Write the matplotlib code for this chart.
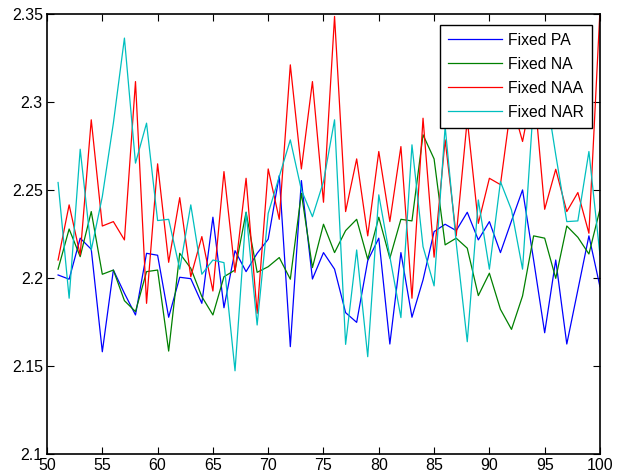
import numpy as np
import matplotlib
matplotlib.use("Agg")
import matplotlib.pyplot as plt

plt.rcParams['font.family'] = ['Liberation Sans', 'DejaVu Sans']

x = np.arange(51, 101)

fixed_pa = [2.2017, 2.1993, 2.2226, 2.2163, 2.1581, 2.2045, 2.1913, 2.1790, 2.2140, 2.2129,
            2.1777, 2.2004, 2.1996, 2.1856, 2.2345, 2.1831, 2.2155, 2.2036, 2.2140, 2.2220,
            2.2581, 2.1610, 2.2553, 2.1994, 2.2144, 2.2050, 2.1803, 2.1748, 2.2098, 2.2226,
            2.1625, 2.2144, 2.1777, 2.1989, 2.2263, 2.2305, 2.2269, 2.2373, 2.2216, 2.2320,
            2.2144, 2.2324, 2.2500, 2.2102, 2.1689, 2.2102, 2.1625, 2.1932, 2.2239, 2.1950]

fixed_na = [2.2050, 2.2278, 2.2121, 2.2377, 2.2021, 2.2045, 2.1871, 2.1809, 2.2036, 2.2045,
            2.1585, 2.2140, 2.2055, 2.1894, 2.1790, 2.2007, 2.2045, 2.2373, 2.2032, 2.2064,
            2.2116, 2.1993, 2.2481, 2.2059, 2.2305, 2.2144, 2.2269, 2.2333, 2.2106, 2.2345,
            2.2112, 2.2333, 2.2324, 2.2813, 2.2676, 2.2188, 2.2226, 2.2169, 2.1900, 2.2027,
            2.1822, 2.1708, 2.1898, 2.2239, 2.2226, 2.1998, 2.2295, 2.2231, 2.2136, 2.2390]

fixed_naa = [2.2102, 2.2415, 2.2131, 2.2898, 2.2295, 2.2320, 2.2216, 2.3115, 2.1856, 2.2648,
             2.2089, 2.2456, 2.2007, 2.2235, 2.1926, 2.2604, 2.2032, 2.2566, 2.1799, 2.2619,
             2.2333, 2.3210, 2.2619, 2.3115, 2.2430, 2.3485, 2.2377, 2.2676, 2.2239, 2.2718,
             2.2320, 2.2746, 2.1885, 2.2907, 2.2118, 2.2784, 2.2239, 2.2900, 2.2310, 2.2566,
             2.2530, 2.3000, 2.2775, 2.3100, 2.2390, 2.2617, 2.2377, 2.2485, 2.2254, 2.3520]

fixed_nar = [2.2542, 2.1885, 2.2731, 2.2159, 2.2462, 2.2879, 2.3362, 2.2652, 2.2879, 2.2326,
             2.2333, 2.2050, 2.2415, 2.2021, 2.2102, 2.2087, 2.1473, 2.2373, 2.1733, 2.2367,
             2.2576, 2.2784, 2.2500, 2.2348, 2.2547, 2.2898, 2.1623, 2.2159, 2.1553, 2.2472,
             2.2121, 2.1775, 2.2756, 2.2178, 2.1955, 2.2860, 2.2200, 2.1638, 2.2443, 2.2050,
             2.2547, 2.2386, 2.2050, 2.3000, 2.3100, 2.2700, 2.2320, 2.2324, 2.2718, 2.2131]

fig = plt.figure(figsize=(6.17, 4.75), dpi=100)
ax = fig.add_axes([0.0762, 0.044, 0.8962, 0.927])

ax.plot(x, fixed_pa, color=(0, 0, 1), lw=0.9, label='Fixed PA')
ax.plot(x, fixed_na, color=(0, 0.5, 0), lw=0.9, label='Fixed NA')
ax.plot(x, fixed_naa, color=(1, 0, 0), lw=0.9, label='Fixed NAA')
ax.plot(x, fixed_nar, color=(0, 0.75, 0.75), lw=0.9, label='Fixed NAR')

ax.set_xlim(50, 100)
ax.set_ylim(2.1, 2.35)
ax.set_xticks(np.arange(50, 101, 5))
ax.set_yticks([2.1, 2.15, 2.2, 2.25, 2.3, 2.35])
ax.set_yticklabels(['2.1', '2.15', '2.2', '2.25', '2.3', '2.35'])
ax.tick_params(direction='in', top=True, right=True, length=5, width=0.8,
               labelsize=11.5, pad=3)
for s in ax.spines.values():
    s.set_linewidth(1.2)

leg = ax.legend(loc='upper right', bbox_to_anchor=(0.985, 0.975), fontsize=11.3,
                fancybox=False, framealpha=1, edgecolor='black',
                handlelength=3.5, handletextpad=0.35, labelspacing=0.58,
                borderpad=0.5, borderaxespad=0)
leg.get_frame().set_linewidth(1.0)

fig.savefig('out.png', dpi=100)
